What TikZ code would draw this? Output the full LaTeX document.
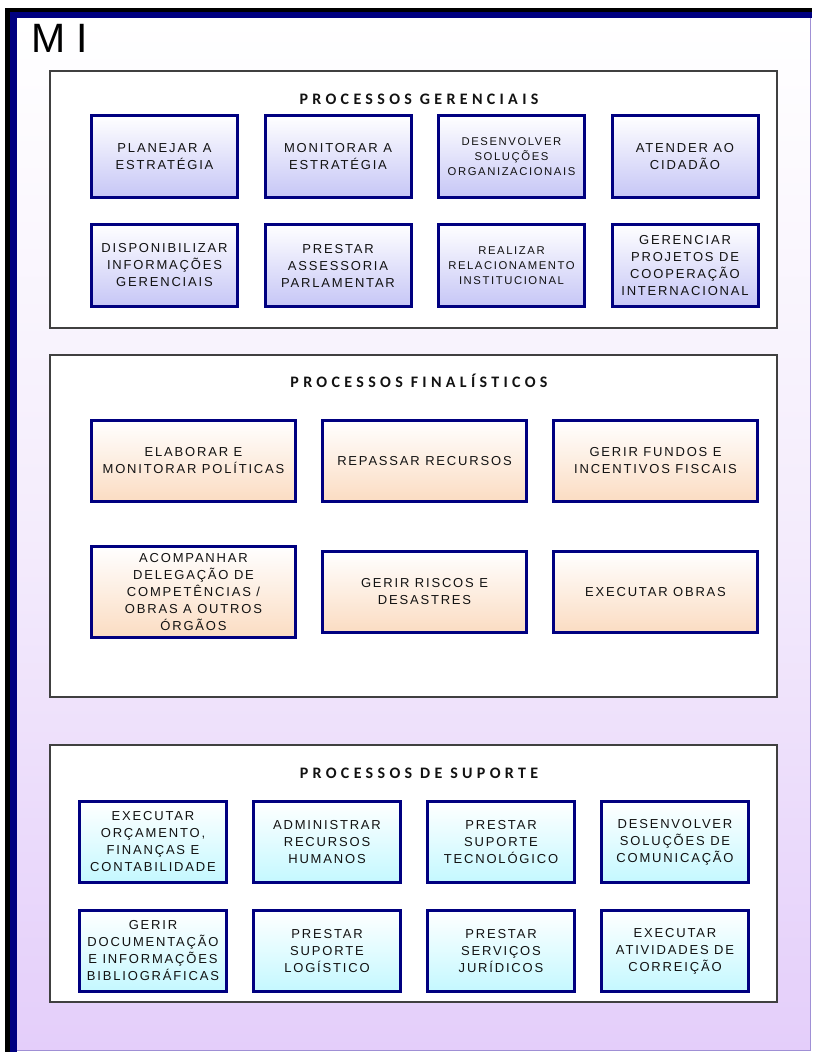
\documentclass[tikz,border=0pt]{standalone}
\usepackage{fontspec}
\setmainfont{Liberation Sans}
\newfontfamily\boxfont{Liberation Sans}[LetterSpace=14]
\newfontfamily\headfont{Carlito}[LetterSpace=27]
\usetikzlibrary{positioning}

\definecolor{mnavy}{RGB}{0,0,128}
\definecolor{framegray}{RGB}{64,64,64}
\definecolor{textgray}{RGB}{18,18,18}
\definecolor{lavmid}{RGB}{244,236,252}
\definecolor{lavbot}{RGB}{228,206,250}
\definecolor{gerbot}{RGB}{198,198,246}
\definecolor{finbot}{RGB}{251,220,194}
\definecolor{supbot}{RGB}{196,248,255}

\begin{document}
\begin{tikzpicture}[x=1pt, y=-1pt,
    procbox/.style={draw=mnavy, line width=3pt, align=center, text=textgray, inner sep=2pt,
      font=\boxfont\fontsize{13}{17}\selectfont},
    small/.style={font=\boxfont\fontsize{11.3}{14.7}\selectfont},
    gerbox/.style={procbox, minimum width=146pt, minimum height=82pt, top color=white, bottom color=gerbot},
    finbox/.style={procbox, minimum width=204pt, minimum height=81pt, top color=white, bottom color=finbot},
    supbox/.style={procbox, minimum width=147pt, minimum height=81pt, top color=white, bottom color=supbot},
    secframe/.style={draw=framegray, line width=1.5pt, fill=white},
    heading/.style={anchor=base, inner sep=0, text=textgray, font=\headfont\bfseries\fontsize{16}{18}\selectfont}]

  \useasboundingbox (0,0) rectangle (812,1052);

  % outer frame
  \shade[top color=white, bottom color=lavmid] (17,18) rectangle (810,534);
  \shade[top color=lavmid, bottom color=lavbot] (17,533) rectangle (810,1050);
  \draw[lavbot!70!mnavy, line width=1pt] (810,18) -- (810,1050) -- (17,1050);
  \fill[black] (5,8) rectangle (812,12);
  \fill[mnavy] (5,12) rectangle (812,18);
  \fill[black] (5,8) rectangle (10,1052);
  \fill[mnavy] (10,12) rectangle (17,1052);
  \node[anchor=base west, inner sep=0, font=\fontsize{41}{41}\selectfont] (title) at (31,52) {M I};

  % processos gerenciais
  \draw[secframe] (50,71) rectangle (777,328);
  \node[heading] (gerhead) at (419,104) {PROCESSOS GERENCIAIS};
  \node[gerbox, anchor=north west] (ger1) at (90,114) {PLANEJAR A\\ESTRATÉGIA};
  \node[gerbox, right=24.5pt of ger1] (ger2) {MONITORAR A\\ESTRATÉGIA};
  \node[gerbox, small, right=24.5pt of ger2] (ger3) {DESENVOLVER\\SOLUÇÕES\\ORGANIZACIONAIS};
  \node[gerbox, right=24.5pt of ger3] (ger4) {ATENDER AO\\CIDADÃO};
  \node[gerbox, below=24pt of ger1] (ger5) {DISPONIBILIZAR\\INFORMAÇÕES\\GERENCIAIS};
  \node[gerbox, right=24.5pt of ger5] (ger6) {PRESTAR\\ASSESSORIA\\PARLAMENTAR};
  \node[gerbox, small, right=24.5pt of ger6] (ger7) {REALIZAR\\RELACIONAMENTO\\INSTITUCIONAL};
  \node[gerbox, right=24.5pt of ger7] (ger8) {GERENCIAR\\PROJETOS DE\\COOPERAÇÃO\\INTERNACIONAL};

  % processos finalisticos
  \draw[secframe] (50,355) rectangle (777,697);
  \node[heading] (finhead) at (419,387) {PROCESSOS FINALÍSTICOS};
  \node[finbox, anchor=north west] (fin1) at (90,419) {ELABORAR E\\MONITORAR POLÍTICAS};
  \node[finbox, right=24pt of fin1] (fin2) {REPASSAR RECURSOS};
  \node[finbox, right=24pt of fin2] (fin3) {GERIR FUNDOS E\\INCENTIVOS FISCAIS};
  \node[finbox, minimum height=91pt, below=42pt of fin1] (fin4) {ACOMPANHAR\\DELEGAÇÃO DE\\COMPETÊNCIAS /\\OBRAS A OUTROS\\ÓRGÃOS};
  \node[finbox, right=24pt of fin4] (fin5) {GERIR RISCOS E\\DESASTRES};
  \node[finbox, right=24pt of fin5] (fin6) {EXECUTAR OBRAS};

  % processos de suporte
  \draw[secframe] (50,745) rectangle (777,1002);
  \node[heading] (suphead) at (419,778) {PROCESSOS DE SUPORTE};
  \node[supbox, anchor=north west] (sup1) at (78,800) {EXECUTAR\\ORÇAMENTO,\\FINANÇAS E\\CONTABILIDADE};
  \node[supbox, right=24pt of sup1] (sup2) {ADMINISTRAR\\RECURSOS\\HUMANOS};
  \node[supbox, right=24pt of sup2] (sup3) {PRESTAR\\SUPORTE\\TECNOLÓGICO};
  \node[supbox, right=24pt of sup3] (sup4) {DESENVOLVER\\SOLUÇÕES DE\\COMUNICAÇÃO};
  \node[supbox, below=25pt of sup1] (sup5) {GERIR\\DOCUMENTAÇÃO\\E INFORMAÇÕES\\BIBLIOGRÁFICAS};
  \node[supbox, right=24pt of sup5] (sup6) {PRESTAR\\SUPORTE\\LOGÍSTICO};
  \node[supbox, right=24pt of sup6] (sup7) {PRESTAR\\SERVIÇOS\\JURÍDICOS};
  \node[supbox, right=24pt of sup7] (sup8) {EXECUTAR\\ATIVIDADES DE\\CORREIÇÃO};
\end{tikzpicture}
\end{document}
